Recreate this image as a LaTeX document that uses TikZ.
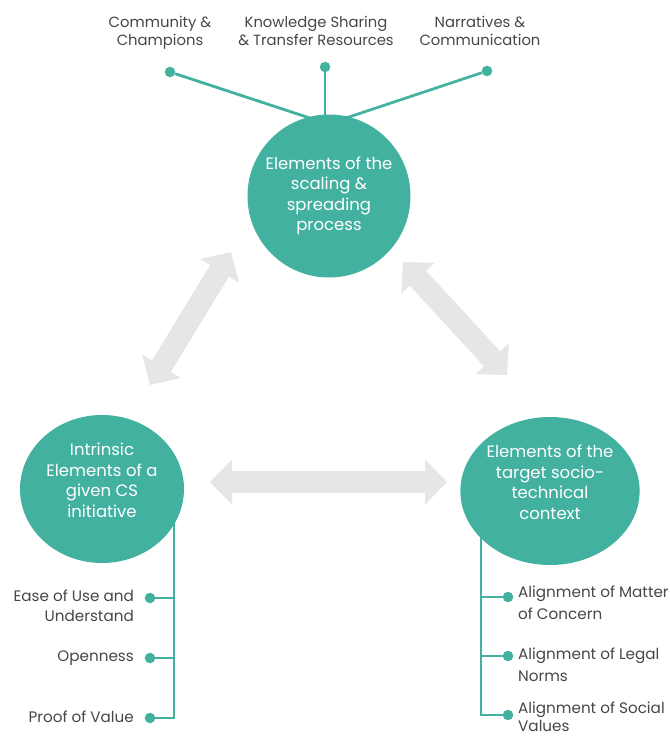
\documentclass[tikz,border=0pt]{standalone}
\usepackage{fontspec}
\setmainfont{Poppins}
\usetikzlibrary{arrows.meta,shapes.geometric}
\definecolor{tealc}{HTML}{43B1A0}
\definecolor{greyarrow}{HTML}{E6E6E6}
\definecolor{txt}{HTML}{474747}
\tikzset{
  bigcircle/.style={circle,fill=tealc,text=white,align=center,inner sep=0pt,minimum size=163pt,
    font=\fontsize{16.5}{20.5}\selectfont},
  bigellipse/.style={ellipse,fill=tealc,text=white,align=center,inner sep=0pt,minimum width=164pt,minimum height=148pt,
    font=\fontsize{16.5}{20.5}\selectfont,text depth=18pt},
  dotnode/.style={circle,fill=tealc,inner sep=0pt,minimum size=10.5pt},
  tline/.style={draw=tealc,line width=2.8pt},
  garrow/.style={draw=greyarrow,line width=22pt,{Triangle[length=22pt,width=44pt]}-{Triangle[length=22pt,width=44pt]}},
  toplabel/.style={text=txt,align=center,inner sep=0pt,font=\fontsize{14.8}{18}\selectfont},
  leftlabel/.style={text=txt,align=right,inner sep=0pt,font=\fontsize{15.2}{20}\selectfont},
  rightlabel/.style={text=txt,align=left,inner sep=0pt,font=\fontsize{15.2}{22}\selectfont}
}
\begin{document}
\begin{tikzpicture}[x=1pt,y=-1pt]
\useasboundingbox (0,0) rectangle (670,737);
\fill[white] (0,0) rectangle (670,737);

% grey arrows
\coordinate (a1) at (150,385);
\coordinate (a2) at (231,252);
\coordinate (b1) at (403,262);
\coordinate (b2) at (507,375);
\coordinate (c1) at (210,482);
\coordinate (c2) at (447,482);
\draw[garrow] (a1) -- (a2);
\draw[garrow] (b1) -- (b2);
\draw[garrow] (c1) -- (c2);

% top labels and dots
\node[toplabel,anchor=north] (l1) at (160,16) {Community \&\\Champions};
\node[toplabel,anchor=north] (l2) at (316,16) {Knowledge Sharing\\\& Transfer Resources};
\node[toplabel,anchor=north] (l3) at (480,16) {Narratives \&\\Communication};
\node[dotnode] (d1) at (170,72) {};
\node[dotnode] (d2) at (325,67) {};
\node[dotnode] (d3) at (487,71) {};
\coordinate (hub) at (328,124);
\draw[tline] (d1) -- (hub);
\draw[tline] (d2) -- (d2 |- hub);
\draw[tline] (d3) -- (hub);

% left branch
\coordinate (lv) at (174,500);
\node[dotnode] (p1) at (150,598) {};
\node[dotnode] (p2) at (150,658) {};
\node[dotnode] (p3) at (150,718) {};
\draw[tline] (lv) |- (p3);
\draw[tline] (p1) -- (p1 -| lv);
\draw[tline] (p2) -- (p2 -| lv);
\node[leftlabel,anchor=north east] (t1) at (134,590) {Ease of Use and\\Understand};
\node[leftlabel,anchor=east] (t2) at (134,658) {Openness};
\node[leftlabel,anchor=east] (t3) at (134,717) {Proof of Value};

% right branch
\coordinate (rv) at (481,505);
\node[dotnode] (q1) at (508,597) {};
\node[dotnode] (q2) at (508,656) {};
\node[dotnode] (q3) at (508,715) {};
\draw[tline] (rv) |- (q3);
\draw[tline] (q1) -- (q1 -| rv);
\draw[tline] (q2) -- (q2 -| rv);
\node[rightlabel,anchor=north west] (s1) at (518,586) {Alignment of Matter\\of Concern};
\node[rightlabel,anchor=north west] (s2) at (518,648) {Alignment of Legal\\Norms};
\node[rightlabel,anchor=north west,font=\fontsize{15.2}{18}\selectfont] (s3) at (518,702) {Alignment of Social\\Values};

% circles
\node[bigcircle] (top) at (329,196) {Elements of the\\scaling \&\\spreading\\process};
\node[bigellipse] (left) at (102,489) {Intrinsic\\Elements of a\\given CS\\initiative};
\node[bigellipse] (right) at (550,491) {Elements of the\\target socio-\\technical\\context};
\end{tikzpicture}
\end{document}
